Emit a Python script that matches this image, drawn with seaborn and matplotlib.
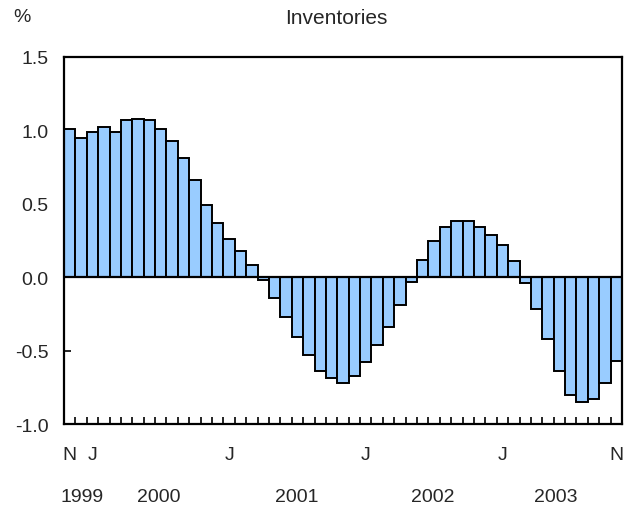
import numpy as np
import pandas as pd
import seaborn as sns
import matplotlib.pyplot as plt
import matplotlib.transforms as mtransforms

# monthly values, Nov 1999 - Nov 2003
months = pd.period_range("1999-11", "2003-11", freq="M").strftime("%Y-%m").tolist()
values = [1.01, 0.95, 0.99, 1.02, 0.99, 1.07, 1.08, 1.07, 1.01, 0.93,
          0.81, 0.66, 0.49, 0.37, 0.26, 0.18, 0.08, -0.02, -0.14, -0.27,
          -0.41, -0.53, -0.64, -0.69, -0.72, -0.67, -0.58, -0.46, -0.34, -0.19,
          -0.03, 0.12, 0.245, 0.34, 0.38, 0.38, 0.34, 0.29, 0.22, 0.11,
          -0.04, -0.22, -0.42, -0.64, -0.80, -0.85, -0.83, -0.72, -0.57]

month_letters = ["N", "J", "J", "J", "J", "N"]
month_letter_pos = [0, 2, 14, 26, 38, 48]
years = ["1999", "2000", "2001", "2002", "2003"]
year_pos = [1.1, 7.85, 19.95, 31.9, 42.7]

yticks = [-1.0, -0.5, 0.0, 0.5, 1.0, 1.5]

df = pd.DataFrame({"month": months, "value": values})

sns.set_style("white")
plt.rcParams["font.family"] = ["Liberation Sans", "DejaVu Sans"]
plt.rcParams["axes.unicode_minus"] = False

fig = plt.figure(figsize=(6.34, 5.10), dpi=100)
ax = fig.add_axes([64 / 634, 85 / 510, 558 / 634, 367 / 510])

sns.barplot(data=df, x="month", y="value", order=months, color="#99ccff",
            saturation=1, width=1.0, edgecolor="black", linewidth=1.4, ax=ax)

ax.axhline(0, color="black", lw=1.6, zorder=5)
ax.set_xlim(-0.5, len(months) - 0.5)
ax.set_ylim(-1.0, 1.5)

ax.set_yticks(yticks)
ax.set_yticklabels([f"{v:.1f}" for v in yticks])
ax.tick_params(axis="y", direction="in", length=5, width=1.2, pad=11,
               labelsize=14, color="black", left=True)

ax.set_xticks(np.arange(len(months) - 1) + 0.5)
ax.set_xticklabels([])
ax.tick_params(axis="x", direction="in", length=5, width=1.2, color="black",
               bottom=True)

for s in ax.spines.values():
    s.set_visible(True)
    s.set_color("black")
    s.set_linewidth(1.6)

ax.set_xlabel("")
ax.set_ylabel("")

trans = mtransforms.blended_transform_factory(ax.transData, ax.transAxes)
for lab, p in zip(month_letters, month_letter_pos):
    ax.text(p, -31 / 367, lab, transform=trans, ha="center", va="center",
            fontsize=14)
for lab, p in zip(years, year_pos):
    ax.text(p, -73 / 367, lab, transform=trans, ha="center", va="center",
            fontsize=14)

fig.text(22 / 634, 1 - 18 / 510, "%", ha="center", va="center", fontsize=14)
fig.text(336.5 / 634, 1 - 18 / 510, "Inventories", ha="center", va="center",
         fontsize=15)

fig.savefig("out.png", dpi=100)
